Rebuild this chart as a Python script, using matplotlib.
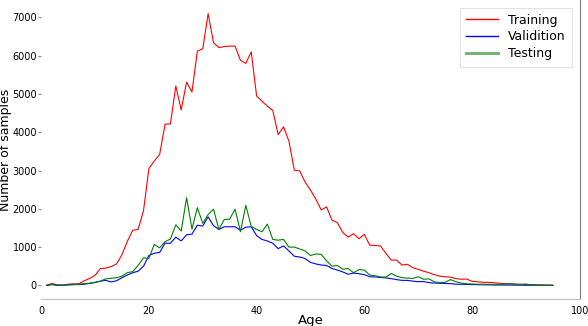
import numpy as np
import matplotlib.pyplot as plt

ages = list(range(1, 96))

training = [0, 50, 10, 5, 30, 40, 40, 120, 180, 260,
            440, 450, 490, 560, 800, 1150, 1440, 1460, 1950, 3050,
            3250, 3420, 4210, 4220, 5210, 4580, 5310, 5050, 6120, 6180,
            7100, 6340, 6210, 6240, 6250, 6250, 5880, 5800, 6100, 4950,
            4810, 4680, 4570, 3940, 4140, 3770, 3010, 2990, 2700, 2490,
            2250, 1970, 2050, 1700, 1640, 1380, 1260, 1350, 1220, 1330,
            1050, 1040, 1030, 840, 660, 660, 530, 550, 460, 420,
            370, 330, 280, 240, 225, 215, 175, 160, 165, 105,
            95, 80, 78, 70, 55, 45, 40, 35, 30, 20,
            15, 10, 8, 5, 3]

validation = [0, 25, 0, 0, 15, 20, 20, 30, 50, 80,
              110, 130, 90, 120, 200, 270, 330, 370, 500, 780,
              840, 860, 1100, 1100, 1260, 1160, 1320, 1340, 1570, 1550,
              1790, 1560, 1460, 1530, 1530, 1530, 1440, 1520, 1530, 1300,
              1200, 1160, 1100, 960, 1030, 900, 760, 740, 700, 600,
              560, 530, 520, 440, 400, 350, 290, 320, 305, 280,
              225, 220, 205, 195, 175, 150, 130, 130, 110, 96,
              100, 70, 60, 55, 50, 45, 30, 28, 25, 20,
              18, 15, 12, 10, 9, 8, 7, 6, 5, 4,
              3, 2, 1, 1, 0]

testing = [0, 20, 5, 5, 10, 20, 30, 45, 55, 70,
           110, 170, 185, 200, 240, 330, 360, 520, 720, 700,
           1070, 980, 1140, 1210, 1580, 1420, 2290, 1470, 2030, 1620,
           1850, 1990, 1460, 1720, 1730, 1990, 1400, 2090, 1540, 1460,
           1400, 1600, 1200, 1180, 1200, 1000, 1000, 950, 900, 780,
           820, 810, 640, 500, 520, 420, 440, 330, 410, 400,
           270, 250, 220, 215, 310, 240, 200, 190, 180, 225,
           160, 170, 90, 75, 80, 150, 95, 60, 40, 35,
           30, 30, 28, 25, 25, 30, 45, 25, 20, 35,
           10, 5, 3, 2, 0]

fig = plt.figure(figsize=(5.88, 3.26), dpi=100)
ax = fig.add_axes([0.07, 0.083, 0.916, 0.917])

ax.plot(ages, training, color='red', lw=0.8, label='Training')
ax.plot(ages, validation, color='blue', lw=0.8, label='Validition')
ax.plot(ages, testing, color='green', lw=0.8, label='Testing')

ax.set_xlim(0, 100)
ax.set_ylim(-355, 7455)
ax.set_xticks([0, 20, 40, 60, 80, 100])
ax.set_yticks(range(0, 7001, 1000))

ax.spines['top'].set_visible(False)
ax.spines['left'].set_visible(False)
ax.spines['bottom'].set_color('#c0c0c0')
ax.spines['right'].set_color('#808080')
ax.tick_params(axis='y', length=2, color='#888888', labelsize=7, pad=1)
ax.tick_params(axis='x', length=0, labelsize=7, pad=5)

ax.set_xlabel('Age', fontsize=9.5, labelpad=-1)
ax.set_ylabel('Number of samples', fontsize=9)
ax.yaxis.set_label_coords(-0.054, 0.5)

leg = ax.legend(loc='upper right', fontsize=9, frameon=True, fancybox=False,
                handlelength=2.6, borderpad=0.5, labelspacing=0.3,
                borderaxespad=0.6)
leg.get_frame().set_edgecolor('#dddddd')
leg.get_frame().set_linewidth(0.8)
for h in leg.get_lines():
    h.set_linewidth(1.0)
leg.get_lines()[2].set_linewidth(2.0)
leg.get_lines()[2].set_alpha(0.6)

fig.savefig('out.png', dpi=100)
